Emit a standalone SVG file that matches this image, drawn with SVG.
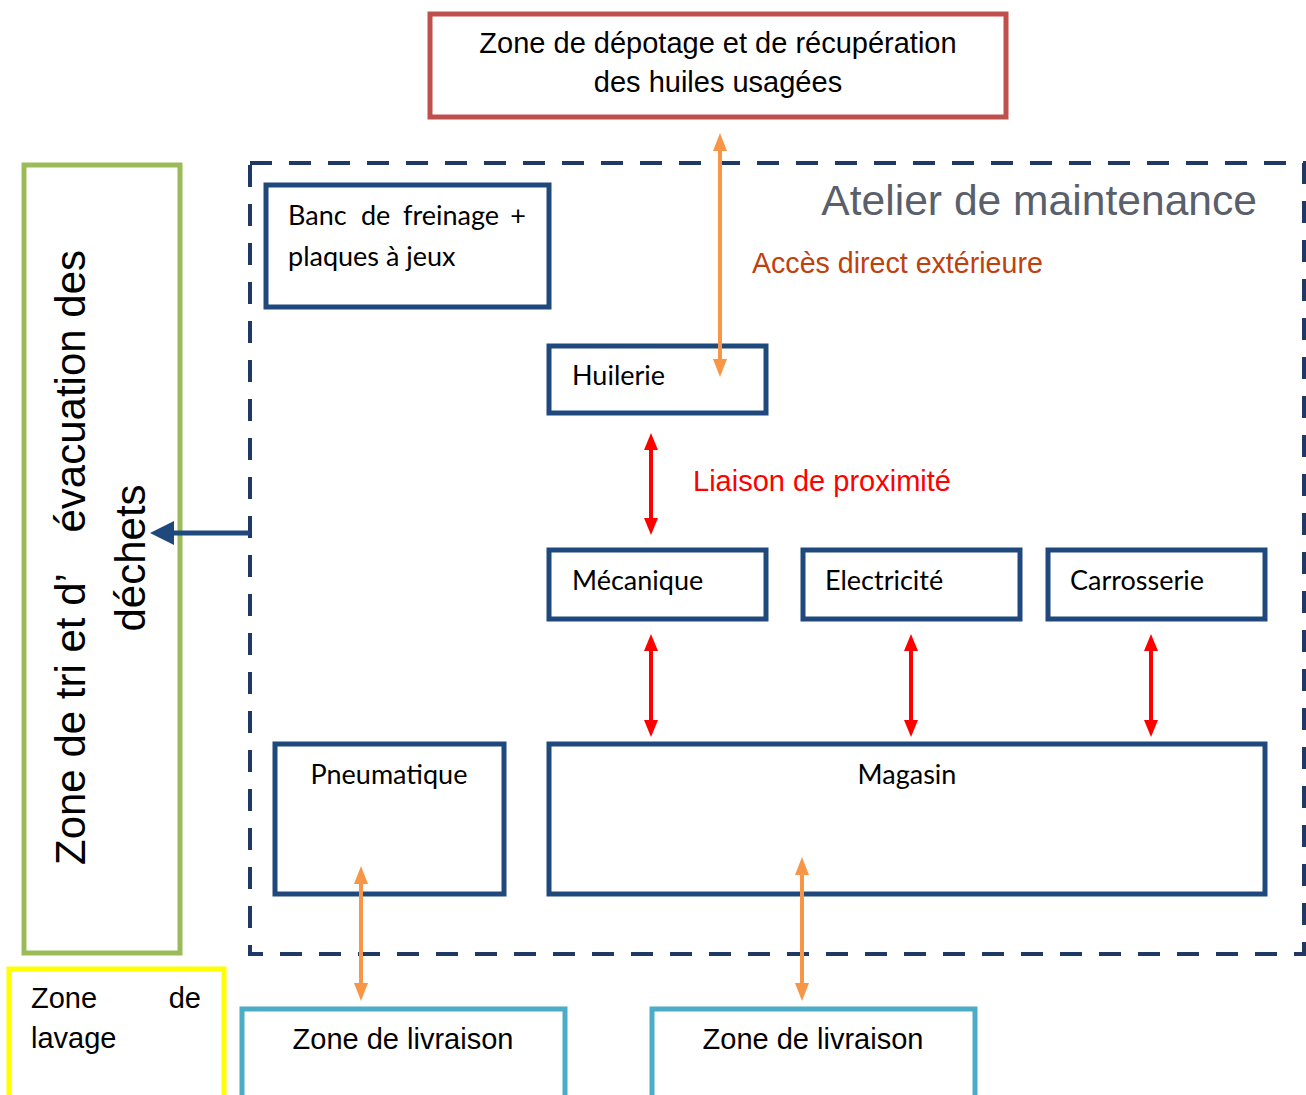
<svg xmlns="http://www.w3.org/2000/svg" width="1306" height="1095" viewBox="0 0 1306 1095">
<style>
.arial{font-family:"Liberation Sans",Arial,sans-serif;fill:#000}
.cal{font-family:Lato,"Open Sans",sans-serif;fill:#000}
.box{fill:#fff;stroke:#1F497D;stroke-width:5}
.red{stroke:#FF0000;stroke-width:4;fill:none}
.orange{stroke:#F79646;stroke-width:4;fill:none}
</style>
<defs>
<marker id="mRed" markerUnits="userSpaceOnUse" markerWidth="18" markerHeight="14" refX="0" refY="7" orient="auto-start-reverse" viewBox="0 0 18 14"><path d="M0,0 L17,7 L0,14 z" fill="#FF0000"/></marker>
<marker id="mOr" markerUnits="userSpaceOnUse" markerWidth="18" markerHeight="14" refX="0" refY="7" orient="auto-start-reverse" viewBox="0 0 18 14"><path d="M0,0 L18,7 L0,14 z" fill="#F79646"/></marker>
<marker id="mBlue" markerUnits="userSpaceOnUse" markerWidth="24" markerHeight="24" refX="0" refY="12" orient="auto" viewBox="0 0 24 24"><path d="M0,0 L24,12 L0,24 z" fill="#1F497D"/></marker>
</defs>
<rect width="1306" height="1095" fill="#fff"/>

<g id="atelier">
<rect x="250" y="163" width="1054" height="791" fill="none" stroke="#1F3864" stroke-width="4" stroke-dasharray="22 17"/>
<text class="arial" x="1257" y="215" font-size="42.6" text-anchor="end" style="fill:#595F6B">Atelier de maintenance</text>
</g>

<g id="depotage">
<rect x="430" y="14" width="576" height="103" fill="#fff" stroke="#C0504D" stroke-width="5"/>
<text class="arial" x="718" y="53" font-size="29" text-anchor="middle">Zone de dépotage et de récupération</text>
<text class="arial" x="718" y="92" font-size="29" text-anchor="middle">des huiles usagées</text>
</g>

<g id="tri">
<rect x="24" y="165" width="156" height="788" fill="#fff" stroke="#9BBB59" stroke-width="5"/>
<text class="arial" font-size="42" transform="rotate(-90)"><tspan x="-865" y="85">Zone de tri et d’</tspan><tspan x="-250" y="85" text-anchor="end">évacuation des</tspan></text>
<text class="arial" font-size="42" transform="rotate(-90)" x="-558" y="145" text-anchor="middle">déchets</text>
</g>

<g id="lavage">
<rect x="9" y="969" width="215" height="140" fill="#fff" stroke="#FFFF00" stroke-width="5"/>
<text class="arial" font-size="29"><tspan x="31" y="1008">Zone</tspan><tspan x="201" y="1008" text-anchor="end">de</tspan><tspan x="31" y="1048">lavage</tspan></text>
</g>

<g id="livraison1">
<rect x="242" y="1009" width="323" height="100" fill="#fff" stroke="#4BACC6" stroke-width="5"/>
<text class="arial" x="403" y="1049" font-size="29" text-anchor="middle">Zone de livraison</text>
</g>

<g id="livraison2">
<rect x="652" y="1009" width="323" height="100" fill="#fff" stroke="#4BACC6" stroke-width="5"/>
<text class="arial" x="813" y="1049" font-size="29" text-anchor="middle">Zone de livraison</text>
</g>

<g id="banc">
<rect class="box" x="266" y="185" width="283" height="122"/>
<text class="cal" font-size="27"><tspan x="288" y="225">Banc</tspan><tspan x="361" y="225">de</tspan><tspan x="403" y="225">freinage</tspan><tspan x="526" y="225" text-anchor="end">+</tspan><tspan x="288" y="266">plaques à jeux</tspan></text>
</g>

<g id="huilerie">
<rect class="box" x="549" y="346" width="217" height="67"/>
<text class="cal" x="572" y="385" font-size="27">Huilerie</text>
</g>

<g id="mecanique">
<rect class="box" x="549" y="550" width="217" height="69"/>
<text class="cal" x="572" y="590" font-size="27">Mécanique</text>
</g>

<g id="electricite">
<rect class="box" x="803" y="550" width="217" height="69"/>
<text class="cal" x="825" y="590" font-size="27">Electricité</text>
</g>

<g id="carrosserie">
<rect class="box" x="1048" y="550" width="217" height="69"/>
<text class="cal" x="1070" y="590" font-size="27">Carrosserie</text>
</g>

<g id="pneumatique">
<rect class="box" x="275" y="744" width="229" height="150"/>
<text class="cal" x="389" y="784" font-size="27" text-anchor="middle">Pneumatique</text>
</g>

<g id="magasin">
<rect class="box" x="549" y="744" width="716" height="150"/>
<text class="cal" x="907" y="784" font-size="27" text-anchor="middle">Magasin</text>
</g>

<g id="connectors">
<line class="orange" x1="720" y1="151" x2="720" y2="359" marker-start="url(#mOr)" marker-end="url(#mOr)"/>
<text class="arial" x="752" y="273" font-size="28.6" style="fill:#C0400E">Accès direct extérieure</text>
<line class="red" x1="651" y1="450" x2="651" y2="518" marker-start="url(#mRed)" marker-end="url(#mRed)"/>
<text class="arial" x="693" y="491" font-size="29" style="fill:#FF0000">Liaison de proximité</text>
<line class="red" x1="651" y1="651" x2="651" y2="720" marker-start="url(#mRed)" marker-end="url(#mRed)"/>
<line class="red" x1="911" y1="651" x2="911" y2="720" marker-start="url(#mRed)" marker-end="url(#mRed)"/>
<line class="red" x1="1151" y1="651" x2="1151" y2="720" marker-start="url(#mRed)" marker-end="url(#mRed)"/>
<line class="orange" x1="361" y1="884" x2="361" y2="983" marker-start="url(#mOr)" marker-end="url(#mOr)"/>
<line class="orange" x1="802" y1="875" x2="802" y2="983" marker-start="url(#mOr)" marker-end="url(#mOr)"/>
<line x1="250" y1="533" x2="174" y2="533" stroke="#1F497D" stroke-width="5" marker-end="url(#mBlue)"/>
</g>
</svg>
